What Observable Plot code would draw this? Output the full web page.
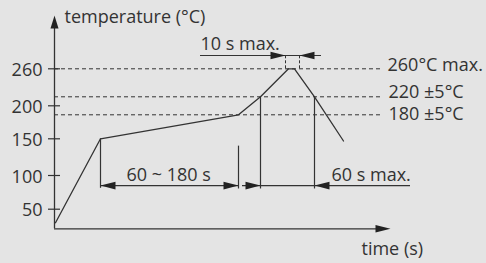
<!DOCTYPE html>
<html><head><meta charset="utf-8">
<script src="https://cdn.jsdelivr.net/npm/d3@7"></script>
<script src="https://cdn.jsdelivr.net/npm/@observablehq/plot@0.6"></script>
<style>html,body{margin:0;padding:0;background:#e4e4e4;}</style>
</head><body><div id="chart"></div>
<script>
// --- data (schematic reflow profile) ---
const yTicks = [50, 100, 150, 200, 260];
const levelTemps = [260, 220, 180];
const levelLabels = ["260°C max.", "220 ±5°C", "180 ±5°C"];
const profileTime = [1, 46, 184, 206, 234, 240, 260, 289];
const profileTemp = [30, 150, 180, 220, 260, 260, 220, 147];
// vertical marker lines (time, from temp, to temp)
const markerTime = [46, 184, 206, 260];
const markerTop = [150, 140, 220, 220];
const markerBottom = [81, 80, 80, 80];
// dimension lines
const dimY = [85, 85, 279];
const dimX1 = [46, 188, 146];
const dimX2 = [184, 356, 267];
const dimLabels = ["60 ~ 180 s", "60 s max.", "10 s max."];
const dimLabelX = [72, 277, 146];
const peakTimes = [231, 245];
const peakTop = 279;

const ink = "#333";
// the drawing's temperature axis is schematic (not uniform): piecewise mapping
const schematic = d3.scaleLinear()
  .domain([21, 50, 100, 150, 180, 220, 260, 336])
  .range([0, 19.6, 53.3, 90, 114, 132, 160, 213.3]);
const xScale = {domain: [0, 336], range: [54, 390]};

const arrowRight = {draw(c) { c.moveTo(0, 0); c.lineTo(-15, -3.8); c.lineTo(-15, 3.8); c.closePath(); }};
const arrowLeft  = {draw(c) { c.moveTo(0, 0); c.lineTo(15, -3.8); c.lineTo(15, 3.8); c.closePath(); }};
const arrowUp    = {draw(c) { c.moveTo(0, 0); c.lineTo(-4, 13); c.lineTo(4, 13); c.closePath(); }};

const profile = profileTime.map((t, i) => ({t, temp: profileTemp[i]}));
const levels = levelTemps.map((temp, i) => ({temp, label: levelLabels[i]}));
const markers = markerTime.map((t, i) => ({t, top: markerTop[i], bottom: markerBottom[i]}));
const dims = dimY.map((y, i) => ({y, x1: dimX1[i], x2: dimX2[i], label: dimLabels[i], lx: dimLabelX[i]}));

const rightHeads = [{t: 184, y: 85}, {t: 206, y: 85}, {t: 231, y: 279}, {t: 336, y: 21}];
const leftHeads = [{t: 46, y: 85}, {t: 260, y: 85}, {t: 245, y: 279}];
const upHeads = [{t: 0, y: 336}];

const font = "Open Sans, sans-serif";

const chart = Plot.plot({
  width: 486, height: 263, margin: 0,
  x: {...xScale, axis: null},
  y: {transform: schematic, domain: [0, 213.3], range: [228.3, 15], axis: null},
  style: {background: "#e4e4e4", fontFamily: font, color: ink},
  marks: [
    Plot.ruleY(levels, {y: "temp", x1: 0, x2: 326, stroke: ink, strokeWidth: 1, strokeDasharray: "4,3"}),
    Plot.ruleX([0], {y1: 21, y2: 326, stroke: ink, strokeWidth: 1.3}),
    Plot.ruleY([21], {x1: 0, x2: 326, stroke: ink, strokeWidth: 1.3}),
    Plot.ruleY(yTicks, {y: d => d, x1: -6, x2: 6, stroke: ink, strokeWidth: 1.2}),
    Plot.text(yTicks, {x: 0, y: d => d, text: d => String(d), dx: -12, dy: 7, textAnchor: "end", lineAnchor: "bottom", fontSize: 18, fill: ink}),
    Plot.line(profile, {x: "t", y: "temp", stroke: ink, strokeWidth: 1.3}),
    Plot.ruleX(markers, {x: "t", y1: "top", y2: "bottom", stroke: ink, strokeWidth: 1.2}),
    Plot.ruleX(peakTimes, {x: d => d, y1: 260, y2: peakTop, stroke: ink, strokeWidth: 1, strokeDasharray: "3,2"}),
    Plot.ruleY(dims, {y: "y", x1: "x1", x2: "x2", stroke: ink, strokeWidth: 1.2}),
    Plot.dot(rightHeads, {x: "t", y: "y", symbol: arrowRight, fill: "#222", stroke: "none"}),
    Plot.dot(leftHeads, {x: "t", y: "y", symbol: arrowLeft, fill: "#222", stroke: "none"}),
    Plot.dot(upHeads, {x: "t", y: "y", symbol: arrowUp, fill: "#222", stroke: "none"}),
    Plot.text(levels.slice(0, 1), {x: 326, y: "temp", text: "label", dx: 7, dy: 2, textAnchor: "start", lineAnchor: "bottom", fontSize: 18, fill: ink}),
    Plot.text(levels.slice(1, 2), {x: 326, y: "temp", text: "label", dx: 8, dy: 1, textAnchor: "start", lineAnchor: "bottom", fontSize: 18, fill: ink}),
    Plot.text(levels.slice(2, 3), {x: 326, y: "temp", text: "label", dx: 8, dy: 5, textAnchor: "start", lineAnchor: "bottom", fontSize: 18, fill: ink}),
    Plot.text(dims, {x: "lx", y: "y", text: "label", dx: 0, dy: -5, textAnchor: "start", lineAnchor: "bottom", fontSize: 18, fill: ink}),
    Plot.text(["temperature (°C)"], {x: 0, y: 336, text: d => d, dx: 10, dy: 7, textAnchor: "start", lineAnchor: "bottom", fontSize: 18, fill: ink}),
    Plot.text(["time (s)"], {x: 336, y: 21, text: d => d, dx: -29, dy: 26, textAnchor: "start", lineAnchor: "bottom", fontSize: 18, fill: ink})
  ]
});
document.getElementById("chart").append(chart);
</script>
</body></html>
